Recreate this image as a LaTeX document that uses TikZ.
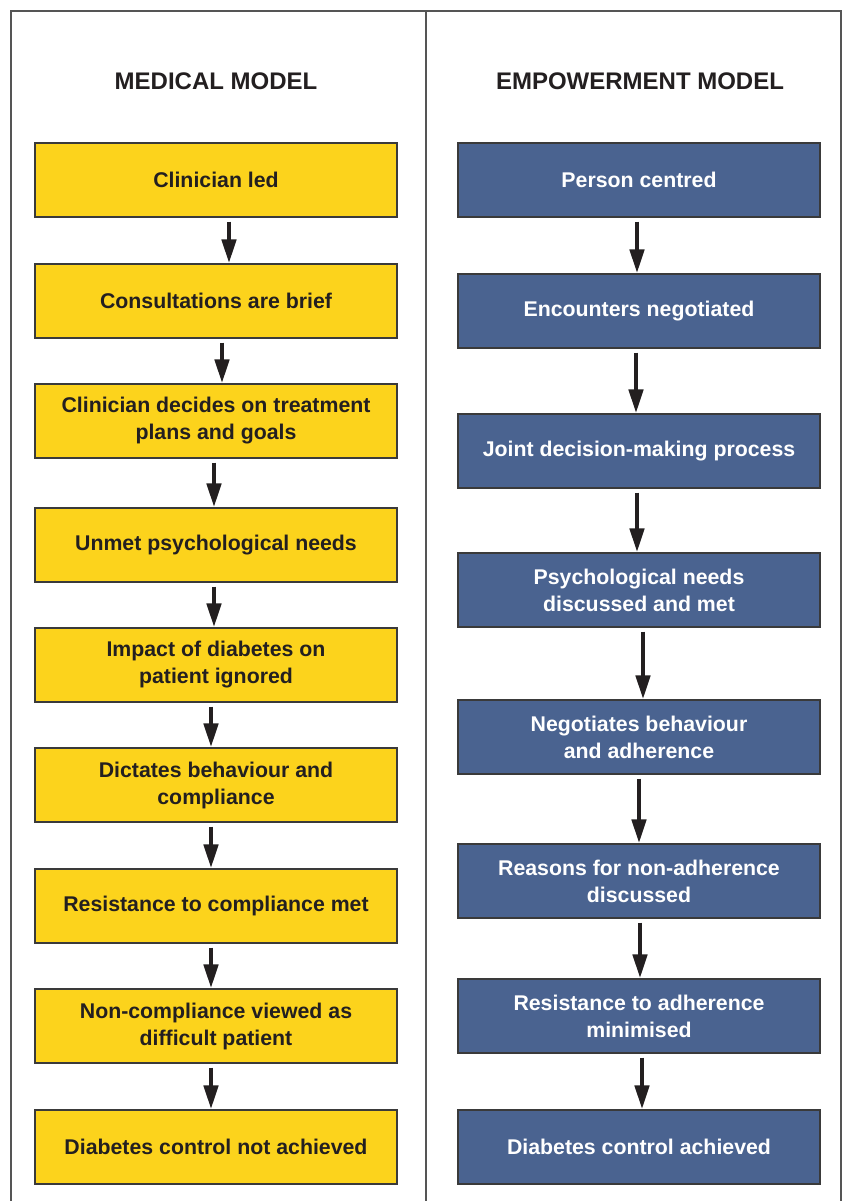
\documentclass[tikz,border=0pt]{standalone}
\usepackage{fontspec}
\setmainfont{Liberation Sans}
\usetikzlibrary{arrows.meta}
\definecolor{boxyellow}{HTML}{FCD31C}
\definecolor{boxblue}{HTML}{4A6390}
\definecolor{boxedge}{HTML}{3A3A3A}
\definecolor{frameline}{HTML}{555555}
\definecolor{ink}{HTML}{231F20}
\tikzset{
  basebox/.style={draw=boxedge, line width=1.2pt, minimum width=362pt, minimum height=74pt,
    inner sep=0pt, align=center, font=\fontsize{21.3}{27}\selectfont\bfseries},
  ybox/.style={basebox, fill=boxyellow, text=ink},
  bbox/.style={basebox, fill=boxblue, text=white},
  heading/.style={font=\fontsize{24}{28}\selectfont\bfseries, text=ink, inner sep=0pt},
  flowarrow/.style={draw=ink, line width=4.5pt, -{Triangle[length=24pt, width=14pt]}},
}
\begin{document}
\begin{tikzpicture}[x=1pt, y=-1pt]
\useasboundingbox[fill=white] (0,0) rectangle (843,1201);
% frame
\draw[frameline, line width=1.4pt] (11,1201) -- (11,11) -- (841,11) -- (841,1201);
\draw[frameline, line width=1.4pt] (426,11) -- (426,1201);
% headings
\node[heading] (hm) at (216,81) {MEDICAL MODEL};
\node[heading] (he) at (640,81) {EMPOWERMENT MODEL};
% medical model
\node[ybox] (m1) at (216,180) {Clinician led};
\node[ybox] (m2) at (216,301) {Consultations are brief};
\node[ybox] (m3) at (216,421) {Clinician decides on treatment\\plans and goals};
\node[ybox] (m4) at (216,545) {Unmet psychological needs};
\node[ybox] (m5) at (216,665) {Impact of diabetes on\\patient ignored};
\node[ybox] (m6) at (216,785) {Dictates behaviour and\\compliance};
\node[ybox] (m7) at (216,906) {Resistance to compliance met};
\node[ybox] (m8) at (216,1026) {Non-compliance viewed as\\difficult patient};
\node[ybox] (m9) at (216,1147) {Diabetes control not achieved};
% empowerment model
\node[bbox] (e1) at (639,180) {Person centred};
\node[bbox] (e2) at (639,311) {Encounters negotiated};
\node[bbox] (e3) at (639,451) {Joint decision-making process};
\node[bbox] (e4) at (639,590) {Psychological needs\\discussed and met};
\node[bbox] (e5) at (639,737) {Negotiates behaviour\\and adherence};
\node[bbox] (e6) at (639,881) {Reasons for non-adherence\\discussed};
\node[bbox] (e7) at (639,1016) {Resistance to adherence\\minimised};
\node[bbox] (e8) at (639,1147) {Diabetes control achieved};
% arrows medical
\draw[flowarrow] ([xshift=13pt,yshift=-4pt]m1.south) -- ([xshift=13pt]m2.north);
\draw[flowarrow] ([xshift=6pt,yshift=-4pt]m2.south) -- ([xshift=6pt]m3.north);
\draw[flowarrow] ([xshift=-2pt,yshift=-4pt]m3.south) -- ([xshift=-2pt]m4.north);
\draw[flowarrow] ([xshift=-2pt,yshift=-4pt]m4.south) -- ([xshift=-2pt]m5.north);
\draw[flowarrow] ([xshift=-5pt,yshift=-4pt]m5.south) -- ([xshift=-5pt]m6.north);
\draw[flowarrow] ([xshift=-5pt,yshift=-4pt]m6.south) -- ([xshift=-5pt]m7.north);
\draw[flowarrow] ([xshift=-5pt,yshift=-4pt]m7.south) -- ([xshift=-5pt]m8.north);
\draw[flowarrow] ([xshift=-5pt,yshift=-4pt]m8.south) -- ([xshift=-5pt]m9.north);
% arrows empowerment
\draw[flowarrow] ([xshift=-2pt,yshift=-4pt]e1.south) -- ([xshift=-2pt]e2.north);
\draw[flowarrow] ([xshift=-3pt,yshift=-4pt]e2.south) -- ([xshift=-3pt]e3.north);
\draw[flowarrow] ([xshift=-2pt,yshift=-4pt]e3.south) -- ([xshift=-2pt]e4.north);
\draw[flowarrow] ([xshift=4pt,yshift=-4pt]e4.south) -- ([xshift=4pt]e5.north);
\draw[flowarrow] ([xshift=0pt,yshift=-4pt]e5.south) -- ([xshift=0pt]e6.north);
\draw[flowarrow] ([xshift=1pt,yshift=-4pt]e6.south) -- ([xshift=1pt]e7.north);
\draw[flowarrow] ([xshift=3pt,yshift=-4pt]e7.south) -- ([xshift=3pt]e8.north);
\end{tikzpicture}
\end{document}
